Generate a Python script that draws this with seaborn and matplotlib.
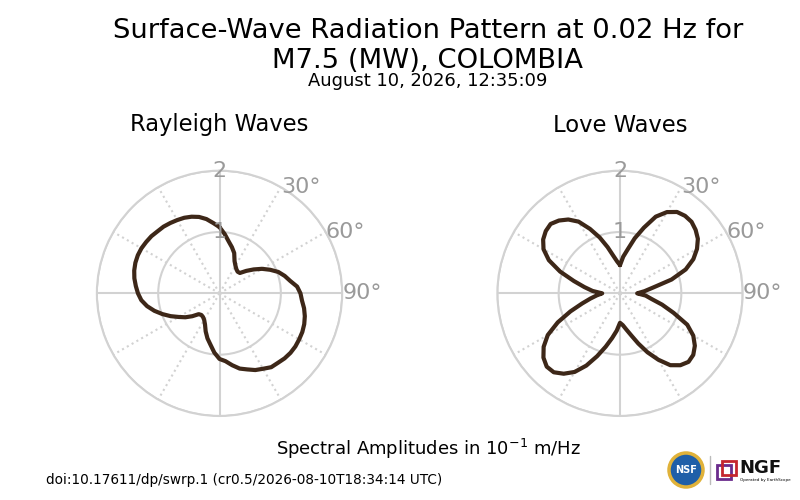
import numpy as np
import matplotlib
matplotlib.use("Agg")
import matplotlib.pyplot as plt
from matplotlib.patches import Circle, Rectangle
import pandas as pd
import seaborn as sns

# azimuths (deg, clockwise from north) and amplitudes
azimuth_deg = list(range(0, 360, 5))
rayleigh_amp = [1.08, 0.97, 0.86, 0.78, 0.70, 0.58, 0.52, 0.48, 0.46, 0.47,
                0.57, 0.68, 0.80, 0.91, 1.02, 1.10, 1.17, 1.27, 1.32, 1.35,
                1.40, 1.44, 1.47, 1.49, 1.50, 1.51, 1.51, 1.50, 1.48, 1.47,
                1.42, 1.38, 1.32, 1.27, 1.19, 1.11, 1.07, 0.97, 0.85, 0.76,
                0.66, 0.56, 0.50, 0.47, 0.46, 0.48, 0.58, 0.68, 0.77, 0.88,
                0.99, 1.10, 1.20, 1.28, 1.33, 1.37, 1.41, 1.44, 1.46, 1.47,
                1.47, 1.46, 1.45, 1.43, 1.42, 1.40, 1.38, 1.36, 1.33, 1.29,
                1.23, 1.15]
love_amp = [0.46, 0.60, 0.73, 0.93, 1.14, 1.38, 1.53, 1.62, 1.65, 1.65,
            1.61, 1.55, 1.45, 1.32, 1.14, 0.87, 0.55, 0.40, 0.28, 0.42,
            0.52, 0.71, 0.93, 1.21, 1.38, 1.49, 1.56, 1.58, 1.53, 1.43,
            1.25, 1.06, 0.87, 0.71, 0.60, 0.52, 0.48, 0.61, 0.74, 0.90,
            1.09, 1.30, 1.48, 1.60, 1.68, 1.69, 1.63, 1.52, 1.36, 1.12,
            0.86, 0.64, 0.49, 0.38, 0.29, 0.45, 0.59, 0.78, 1.04, 1.28,
            1.44, 1.53, 1.58, 1.60, 1.55, 1.47, 1.35, 1.16, 0.97, 0.78,
            0.62, 0.52]

r_ticks = [1, 2]
theta_labels = [30, 60, 90]

title = "Surface-Wave Radiation Pattern at 0.02 Hz for\nM7.5 (MW), COLOMBIA"
subtitle = "August 10, 2026, 12:35:09"
panel_titles = ["Rayleigh Waves", "Love Waves"]
amp_label = "Spectral Amplitudes in 10$^{-1}$ m/Hz"
footer = "doi:10.17611/dp/swrp.1 (cr0.5/2026-08-10T18:34:14 UTC)"

line_color = "#3d2718"
grid_color = "#d2d2d2"
label_color = "#9a9a9a"

sns.set_style("white")
plt.rcParams["font.family"] = ["DejaVu Sans"]
plt.rcParams["text.color"] = "black"

fig = plt.figure(figsize=(8, 5), dpi=100)


def draw_pattern(rect, amps, name):
    ax = fig.add_axes(rect, projection="polar")
    ax.set_theta_zero_location("N")
    ax.set_theta_direction(-1)

    # close the curve
    df = pd.DataFrame({
        "theta": np.deg2rad(azimuth_deg + [360]),
        "amp": amps + amps[:1],
    })
    sns.lineplot(data=df, x="theta", y="amp", sort=False, estimator=None,
                 color=line_color, linewidth=3, ax=ax, zorder=2)
    ax.set_xlabel("")
    ax.set_ylabel("")
    ax.set_ylim(0, 2)

    ax.set_xticks(np.deg2rad(range(0, 360, 30)))
    ax.set_xticklabels([])
    ax.set_yticks(r_ticks)
    ax.set_yticklabels([])
    ax.yaxis.grid(True, color=grid_color, linestyle="-", linewidth=1.5)
    ax.xaxis.grid(True, color=grid_color, linestyle=":", linewidth=1.5)
    for ang, gl in zip(range(0, 360, 30), ax.xaxis.get_gridlines()):
        if ang % 90 == 0:
            gl.set_linestyle("-")
    ax.spines["polar"].set_color(grid_color)
    ax.spines["polar"].set_linewidth(1.5)

    for r in r_ticks:
        ax.text(0, r, str(r), ha="center", va="center", color=label_color,
                fontsize=16, zorder=4)
    for a in theta_labels:
        ax.text(np.deg2rad(a), 2.0, f"{a}°", ha="left", va="center",
                color=label_color, fontsize=16, zorder=4)

    fig.text(rect[0] + rect[2] / 2, 0.75, name, ha="center", va="center",
             fontsize=16.3)
    return ax


draw_pattern([0.121, 0.168, 0.3068, 0.4906], rayleigh_amp, panel_titles[0])
draw_pattern([0.6216, 0.168, 0.3068, 0.4906], love_amp, panel_titles[1])

fig.text(0.535, 0.908, title, ha="center", va="center", fontsize=19.7)
fig.text(0.535, 0.838, subtitle, ha="center", va="center", fontsize=12.9)
fig.text(0.535, 0.102, amp_label, ha="center", va="center", fontsize=13)
fig.text(0.058, 0.04, footer, ha="left", va="center", fontsize=9.8)

# rough stand-ins for the two logos
logo = fig.add_axes([0.82, 0.0, 0.18, 0.12])
logo.set_xlim(0, 144)
logo.set_ylim(0, 60)
logo.set_aspect("equal")
logo.axis("off")
logo.add_patch(Circle((30, 30), 17, facecolor="#1f5fa8", edgecolor="#e0b23a",
                      linewidth=2.5))
logo.text(30, 30, "NSF", ha="center", va="center", color="white",
          fontsize=7, fontweight="bold")
logo.plot([54, 54], [16, 44], color="#bbbbbb", linewidth=1)
logo.add_patch(Rectangle((61, 21), 14, 14, facecolor="none",
                         edgecolor="#6a2c8c", linewidth=2))
logo.add_patch(Rectangle((66, 25), 14, 14, facecolor="none",
                         edgecolor="#c4262e", linewidth=2))
logo.text(83, 32, "NGF", ha="left", va="center", fontsize=13,
          fontweight="bold", color="#111111")
logo.text(84, 20, "Operated by EarthScope", ha="left", va="center",
          fontsize=3)

fig.savefig("out.png", dpi=100)
